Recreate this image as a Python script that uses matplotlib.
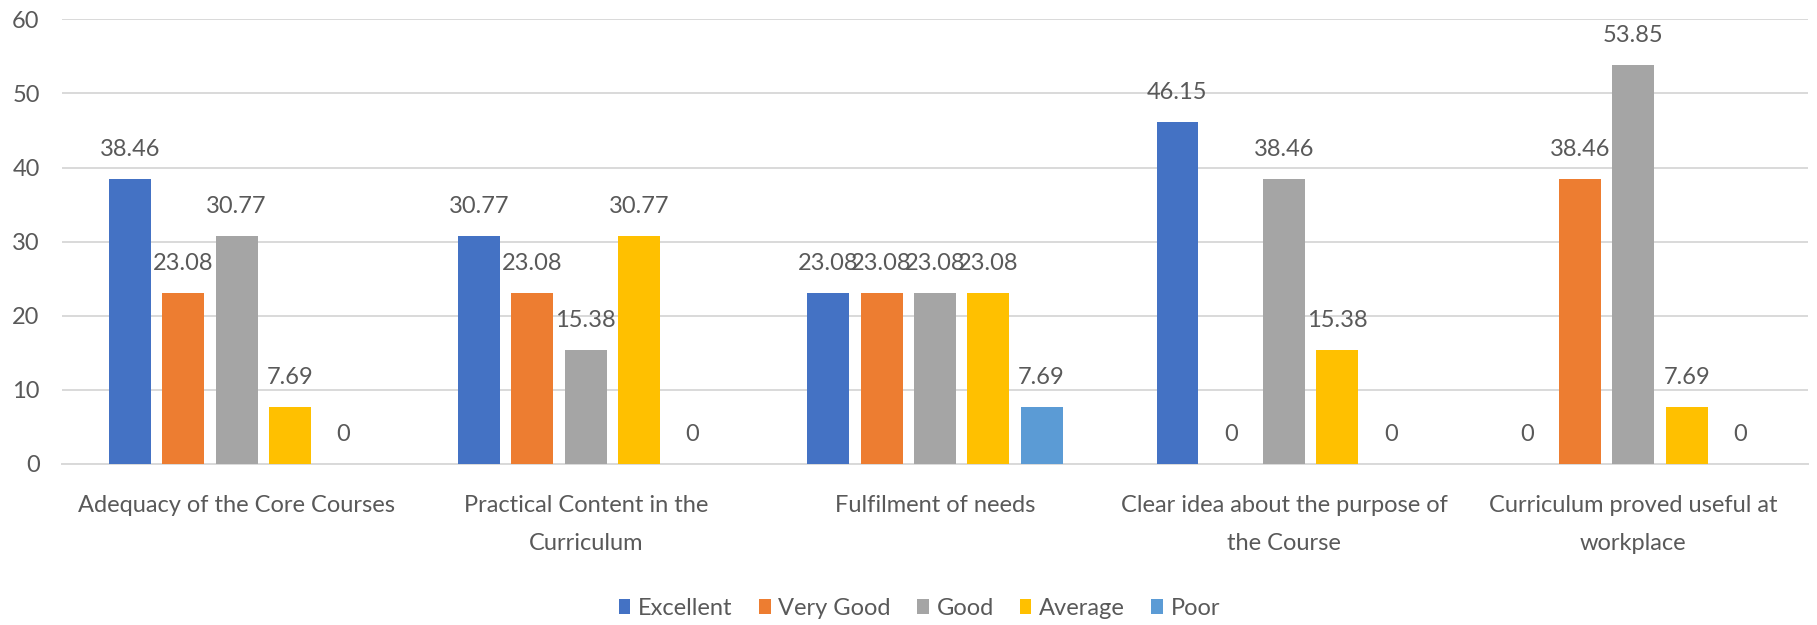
import numpy as np
import matplotlib.pyplot as plt

plt.rcParams['font.family'] = ['Lato', 'DejaVu Sans']

categories = ['Adequacy of the Core Courses',
              'Practical Content in the\nCurriculum',
              'Fulfilment of needs',
              'Clear idea about the purpose of\nthe Course',
              'Curriculum proved useful at\nworkplace']
series = ['Excellent', 'Very Good', 'Good', 'Average', 'Poor']
excellent = [38.46, 30.77, 23.08, 46.15, 0]
very_good = [23.08, 23.08, 23.08, 0, 38.46]
good = [30.77, 15.38, 23.08, 38.46, 53.85]
average = [7.69, 30.77, 23.08, 15.38, 7.69]
poor = [0, 0, 7.69, 0, 0]
colors = ['#4472C4', '#ED7D31', '#A5A5A5', '#FFC000', '#5B9BD5']

text_color = '#595959'
grid_color = '#D9D9D9'

fig = plt.figure(figsize=(18.17, 6.25), dpi=100)
ax = fig.add_axes([0.0341, 0.2576, 0.9609, 0.7115])

x = np.arange(len(categories))
step = 0.1527
width = 0.120
for i, (name, vals) in enumerate(zip(series, [excellent, very_good, good, average, poor])):
    bars = ax.bar(x + (i - 2) * step, vals, width, color=colors[i], label=name, zorder=3)
    ax.bar_label(bars, fmt='%g', padding=13.5, fontsize=17, color=text_color)

ax.set_xlim(-0.5, len(categories) - 0.5)
ax.set_ylim(0, 60)
ax.set_yticks(range(0, 61, 10))
ax.set_xticks(x)
ax.set_xticklabels(categories, fontsize=17, color=text_color, linespacing=2.0)
ax.tick_params(axis='y', length=0, pad=16, labelsize=17, labelcolor=text_color)
ax.tick_params(axis='x', length=0, pad=22)

ax.grid(axis='y', color=grid_color, linewidth=1.4, zorder=0)
for side in ['top', 'right', 'left']:
    ax.spines[side].set_visible(False)
ax.spines['bottom'].set_color(grid_color)
ax.spines['bottom'].set_linewidth(1.4)

fig.legend(loc='center', bbox_to_anchor=(0.506, 0.026), ncol=5, frameon=False,
           fontsize=17, labelcolor=text_color, handlelength=0.5, handleheight=0.6,
           handletextpad=0.33, columnspacing=1.1)

fig.savefig('out.png', dpi=100)
